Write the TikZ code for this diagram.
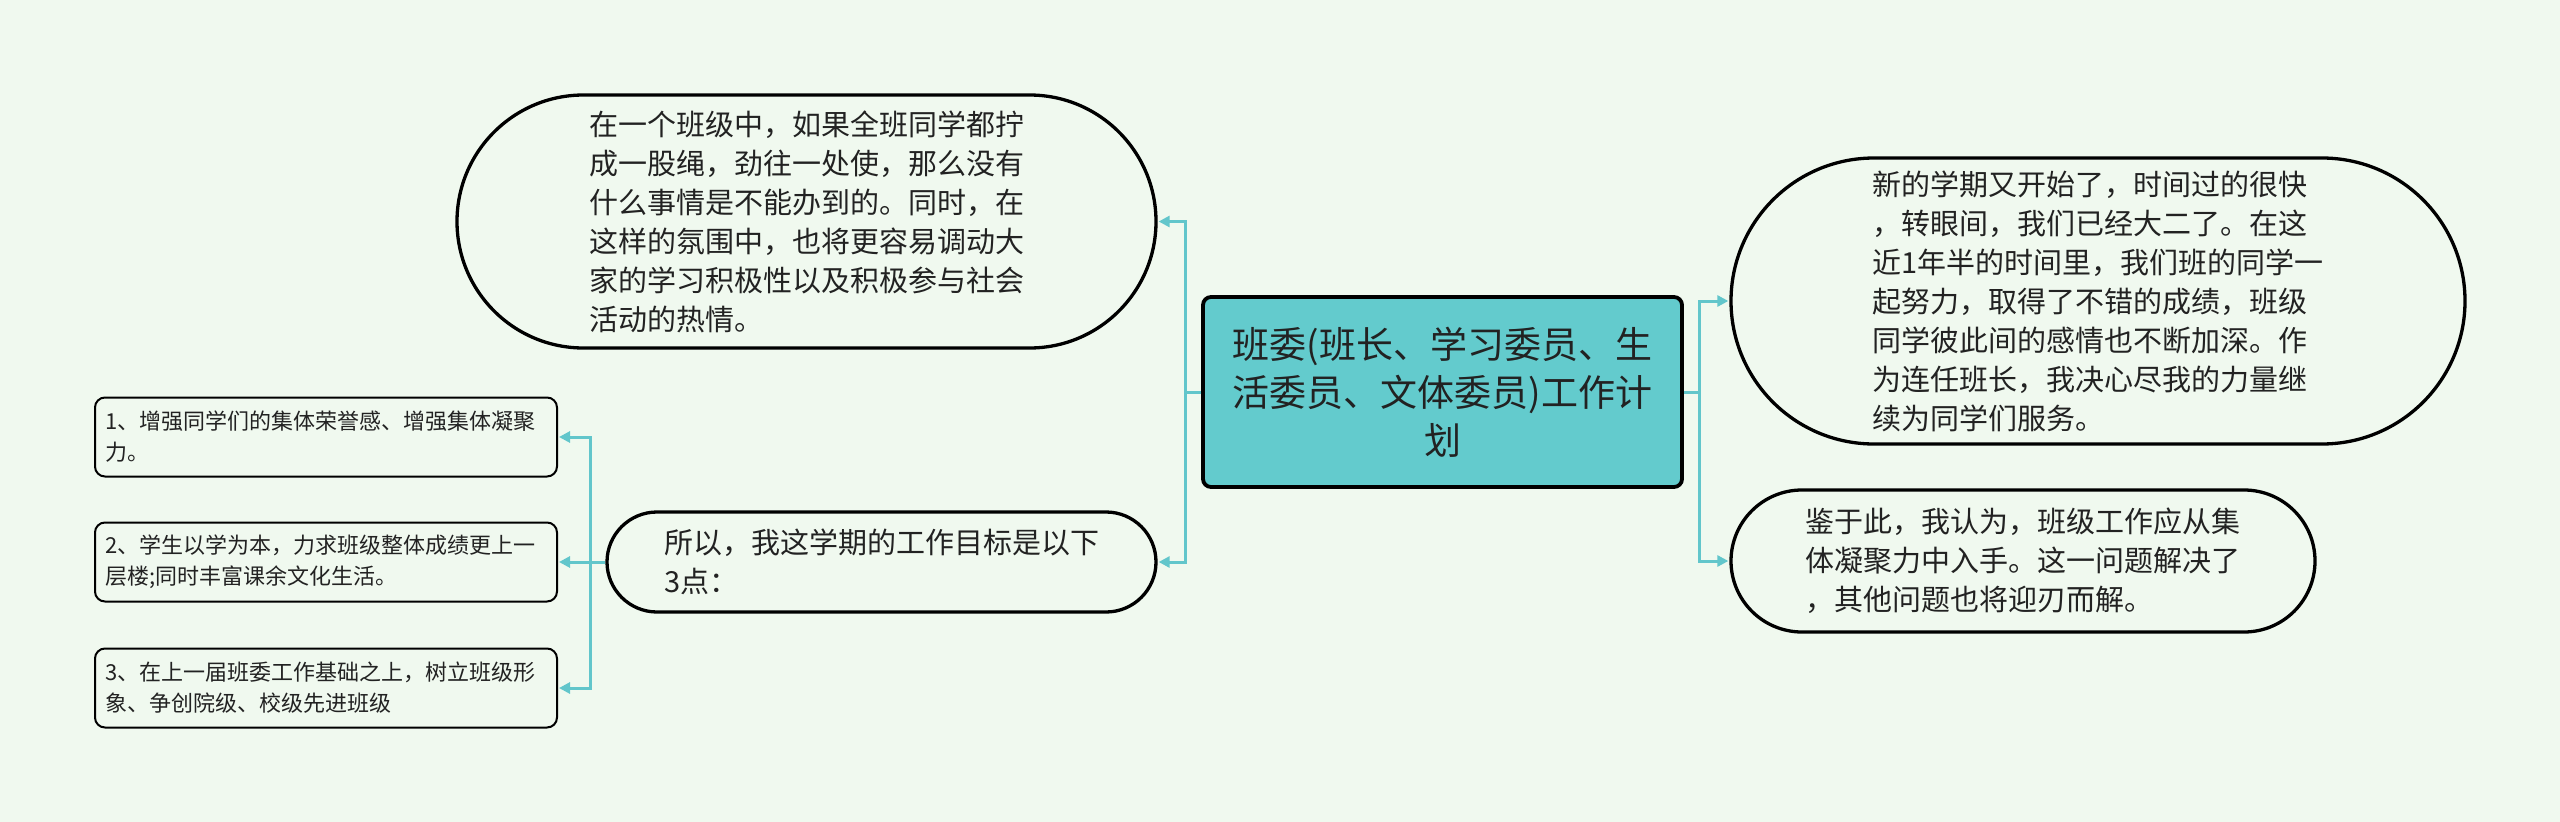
\documentclass[tikz,border=0pt]{standalone}
\usepackage{fontspec}
\setmainfont{Noto Sans CJK SC}
\usetikzlibrary{arrows.meta}
\usetikzlibrary{shapes.misc}
\definecolor{bgcol}{HTML}{F0F9EF}
\definecolor{rootcol}{HTML}{63CBCD}
\definecolor{linkcol}{HTML}{62C6CB}
\definecolor{textcol}{HTML}{222222}

\begin{document}
\begin{tikzpicture}[x=1pt, y=-1pt, shorten >=1pt,
        root_style/.style={rectangle,rounded corners=8pt,draw=black,line width=3.8pt,fill=rootcol,text=textcol,align=center,font=\fontsize{37}{48}\selectfont,inner sep=0pt,minimum width=479pt,minimum height=190pt},
        bubble_style/.style={rounded rectangle,draw=black,line width=3.3pt,fill=bgcol,text=textcol,align=left,font=\fontsize{29}{39}\selectfont,inner sep=0pt},
        item_style/.style={rectangle,rounded corners=10pt,draw=black,line width=2pt,fill=bgcol,text=textcol,align=left,text width=442pt,inner xsep=10pt,inner ysep=0pt,minimum height=79pt,font=\fontsize{22}{31}\selectfont},
        link_style/.style={draw=linkcol, line width=3pt, -{Triangle[length=11pt,width=11pt]}}]

        \useasboundingbox (0,0) rectangle (2560,822);
        \fill [bgcol] (0,0) rectangle (2560,822);

        \node [root_style](n1) at (1442.5,392) {班委(班长、学习委员、生\\活委员、文体委员)工作计\\划};

        \node [bubble_style,minimum width=699pt,minimum height=253pt](n2) at (806.5,221.5) {在一个班级中，如果全班同学都拧\\成一股绳，劲往一处使，那么没有\\什么事情是不能办到的。同时，在\\这样的氛围中，也将更容易调动大\\家的学习积极性以及积极参与社会\\活动的热情。};

        \node [bubble_style,minimum width=549pt,minimum height=100pt](n3) at (881.5,562) {所以，我这学期的工作目标是以下\\3点：};

        \node [bubble_style,minimum width=734pt,minimum height=286pt](n4) at (2098,301) {新的学期又开始了，时间过的很快\\，转眼间，我们已经大二了。在这\\近1年半的时间里，我们班的同学一\\起努力，取得了不错的成绩，班级\\同学彼此间的感情也不断加深。作\\为连任班长，我决心尽我的力量继\\续为同学们服务。};

        \node [bubble_style,minimum width=584pt,minimum height=142pt](n5) at (2023,561) {鉴于此，我认为，班级工作应从集\\体凝聚力中入手。这一问题解决了\\，其他问题也将迎刃而解。};

        \node [item_style](n6) at (326,437) {1、增强同学们的集体荣誉感、增强集体凝聚\\力。};

        \node [item_style](n7) at (326,562) {2、学生以学为本，力求班级整体成绩更上一\\层楼;同时丰富课余文化生活。};

        \node [item_style](n8) at (326,688) {3、在上一届班委工作基础之上，树立班级形\\象、争创院级、校级先进班级};

        \coordinate (j1) at (1185,392);
        \coordinate (j2) at (1699,392);
        \coordinate (j3) at (590,562);

        \draw [link_style] (n1.west) -- (j1) |- (n2.east);

        \draw [link_style] (n1.west) -- (j1) |- (n3.east);

        \draw [link_style] (n1.east) -- (j2) |- (n4.west);

        \draw [link_style] (n1.east) -- (j2) |- (n5.west);

        \draw [link_style] (n3.west) -- (j3) |- (n6.east);

        \draw [link_style] (n3.west) -- (j3) |- (n7.east);

        \draw [link_style] (n3.west) -- (j3) |- (n8.east);

        \end{tikzpicture}
\end{document}
